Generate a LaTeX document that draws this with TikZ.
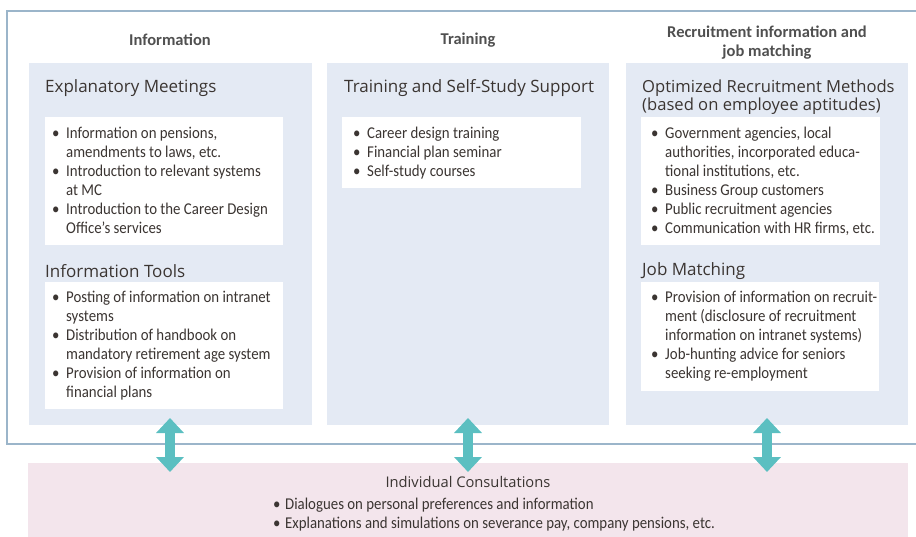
\documentclass[tikz,border=0pt]{standalone}
\usepackage{fontspec}
\setmainfont{Carlito}
\newfontfamily\condfont[FakeStretch=0.9]{Carlito}
\newfontfamily\titlefont{Open Sans}
\usetikzlibrary{arrows.meta}
\definecolor{panelc}{HTML}{E4EAF4}
\definecolor{pinkc}{HTML}{F3E5EC}
\definecolor{framec}{HTML}{9BB5CA}
\definecolor{tealc}{HTML}{5BBFC1}
\definecolor{txtc}{HTML}{3B3532}
\definecolor{headc}{HTML}{505050}
\newcommand{\bl}{\makebox[14pt][l]{\textbullet}}
\newcommand{\ind}{\hspace*{14pt}}
\begin{document}
\begin{tikzpicture}[x=1pt,y=-1pt,
  panel/.style={fill=panelc,draw=none},
  wbox/.style={fill=white,draw=none},
  colhead/.style={font=\fontsize{16.5}{19}\selectfont\bfseries,text=headc,align=center,inner sep=0pt},
  ptitle/.style={font=\titlefont\fontsize{17}{18}\selectfont,text=txtc,align=left,anchor=west,inner sep=0pt},
  blist/.style={font=\condfont\fontsize{16.5}{19}\selectfont,text=txtc,align=left,anchor=north west,inner sep=0pt},
  twoway/.style={draw=tealc,line width=10pt,{Triangle[width=27pt,length=15pt]}-{Triangle[width=27pt,length=15pt]}}
]
\useasboundingbox (0,0) rectangle (916,537);
\begin{scope}
\clip (0,0) rectangle (916,537);
% pink consultation area
\fill[pinkc] (28,463) rectangle (908,540);
% outer frame
\draw[framec,line width=1.5pt] (7,11) rectangle (930,444);
\end{scope}
% panels
\node[panel,minimum width=283pt,minimum height=362pt,anchor=north west,inner sep=0pt] (p1) at (29,63) {};
\node[panel,minimum width=282pt,minimum height=362pt,anchor=north west,inner sep=0pt] (p2) at (327,63) {};
\node[panel,minimum width=282pt,minimum height=362pt,anchor=north west,inner sep=0pt] (p3) at (626,63) {};
% white boxes
\node[wbox,minimum width=238pt,minimum height=128pt,anchor=north west,inner sep=0pt] (b11) at (45,117) {};
\node[wbox,minimum width=238pt,minimum height=127pt,anchor=north west,inner sep=0pt] (b12) at (45,282) {};
\node[wbox,minimum width=239pt,minimum height=71pt,anchor=north west,inner sep=0pt] (b21) at (342,117) {};
\node[wbox,minimum width=239pt,minimum height=128pt,anchor=north west,inner sep=0pt] (b31) at (641,117) {};
\node[wbox,minimum width=238pt,minimum height=109pt,anchor=north west,inner sep=0pt] (b32) at (641,282) {};
% column headings
\node[colhead] (h1) at (170,40) {Information};
\node[colhead] (h2) at (468,40) {Training};
\node[colhead] (h3) at (767,43) {Recruitment information and\\job matching};
% panel titles
\node[ptitle] (t11) at (45,88) {Explanatory Meetings};
\node[ptitle] (t12) at (45,271) {Information Tools};
\node[ptitle] (t21) at (344,88) {Training and Self-Study Support};
\node[ptitle,font=\titlefont\fontsize{16.6}{18}\selectfont] (t31) at (642,97) {Optimized Recruitment Methods\\(based on employee aptitudes)};
\node[ptitle] (t32) at (642,271) {Job Matching};
% bullet lists
\node[blist] (l11) at (52,127) {\bl Information on pensions,\\\ind amendments to laws, etc.\\\bl Introduction to relevant systems\\\ind at MC\\\bl Introduction to the Career Design\\\ind Office’s services};
\node[blist] (l12) at (52,291) {\bl Posting of information on intranet\\\ind systems\\\bl Distribution of handbook on\\\ind mandatory retirement age system\\\bl Provision of information on\\\ind financial plans};
\node[blist] (l21) at (353,127) {\bl Career design training\\\bl Financial plan seminar\\\bl Self-study courses};
\node[blist] (l31) at (651,127) {\bl Government agencies, local\\\ind authorities, incorporated educa-\\\ind tional institutions, etc.\\\bl Business Group customers\\\bl Public recruitment agencies\\\bl Communication with HR firms, etc.};
\node[blist] (l32) at (651,291) {\bl Provision of information on recruit-\\\ind ment (disclosure of recruitment\\\ind information on intranet systems)\\\bl Job-hunting advice for seniors\\\ind seeking re-employment};
% consultation text
\node[font=\titlefont\fontsize{14.7}{16}\selectfont,text=txtc,inner sep=0pt] (ct) at (468,482) {Individual Consultations};
\node[blist] (cl) at (273,498) {\makebox[12pt][l]{\textbullet}Dialogues on personal preferences and information\\\makebox[12pt][l]{\textbullet}Explanations and simulations on severance pay, company pensions, etc.};
% arrows
\coordinate (a1t) at (170,418); \coordinate (a1b) at (170,472);
\coordinate (a2t) at (468,418); \coordinate (a2b) at (468,472);
\coordinate (a3t) at (767,418); \coordinate (a3b) at (767,472);
\draw[twoway] (a1t) -- (a1b);
\draw[twoway] (a2t) -- (a2b);
\draw[twoway] (a3t) -- (a3b);
\end{tikzpicture}
\end{document}
